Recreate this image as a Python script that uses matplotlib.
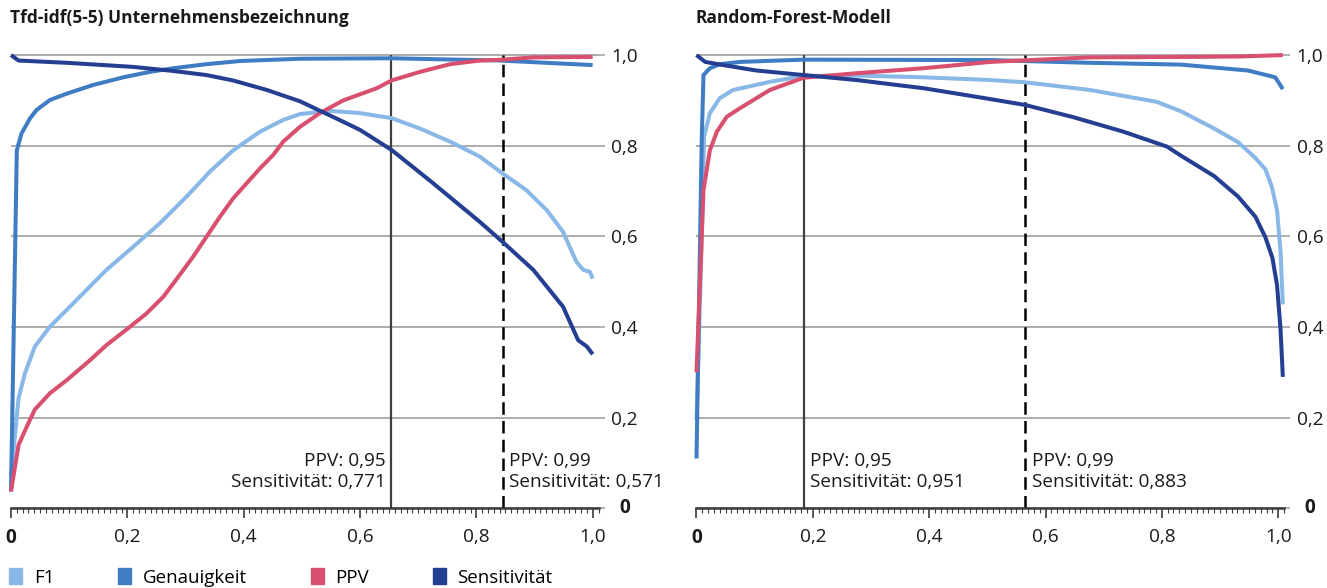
import matplotlib
matplotlib.use("Agg")
import matplotlib.pyplot as plt
from matplotlib.patches import Patch
from matplotlib.ticker import MultipleLocator

plt.rcParams['font.family'] = ['Open Sans', 'DejaVu Sans']

# Farben der Reihen
c_f1 = '#8ab8e6'
c_gen = '#3f7cc4'
c_ppv = '#d9506f'
c_sens = '#243f92'

series_names = ['F1', 'Genauigkeit', 'PPV', 'Sensitivität']

# ---- linkes Panel: Tfd-idf(5-5) ----
l_f1_x = [0.0, 0.013, 0.024, 0.041, 0.067, 0.096, 0.13, 0.164, 0.21, 0.256, 0.302, 0.342, 0.382,
          0.428, 0.468, 0.497, 0.548, 0.6, 0.654, 0.703, 0.755, 0.806, 0.845, 0.886, 0.921, 0.949,
          0.972, 0.984, 0.995, 1.0]
l_f1_y = [0.07, 0.243, 0.298, 0.357, 0.401, 0.438, 0.482, 0.526, 0.577, 0.629, 0.688, 0.743, 0.79,
          0.831, 0.857, 0.870, 0.877, 0.872, 0.861, 0.838, 0.809, 0.776, 0.739, 0.702, 0.658, 0.610,
          0.544, 0.526, 0.522, 0.507]

l_gen_x = [0.0, 0.01, 0.018, 0.033, 0.044, 0.067, 0.096, 0.141, 0.193, 0.239, 0.279, 0.336, 0.394,
           0.497, 0.654, 0.841, 1.0]
l_gen_y = [0.037, 0.79, 0.827, 0.861, 0.879, 0.901, 0.915, 0.934, 0.951, 0.963, 0.971, 0.980, 0.987,
           0.992, 0.993, 0.988, 0.978]

l_ppv_x = [0.0, 0.013, 0.027, 0.041, 0.067, 0.096, 0.136, 0.164, 0.205, 0.233, 0.262, 0.29, 0.313,
           0.336, 0.359, 0.382, 0.405, 0.428, 0.451, 0.468, 0.497, 0.531, 0.571, 0.629, 0.654, 0.703,
           0.755, 0.806, 0.845, 0.898, 1.0]
l_ppv_y = [0.037, 0.14, 0.18, 0.218, 0.254, 0.283, 0.327, 0.36, 0.401, 0.43, 0.467, 0.515, 0.555,
           0.599, 0.643, 0.684, 0.717, 0.75, 0.78, 0.809, 0.842, 0.872, 0.9, 0.927, 0.944, 0.963,
           0.98, 0.988, 0.99, 0.995, 0.996]

l_sens_x = [0.0, 0.013, 0.096, 0.21, 0.279, 0.336, 0.382, 0.44, 0.497, 0.571, 0.6, 0.654, 0.726,
            0.806, 0.845, 0.898, 0.949, 0.975, 0.99, 1.0]
l_sens_y = [1.0, 0.988, 0.983, 0.974, 0.965, 0.956, 0.944, 0.923, 0.898, 0.853, 0.835, 0.791, 0.717,
            0.632, 0.588, 0.526, 0.445, 0.371, 0.357, 0.340]

l_marks = [0.654, 0.845]
l_texts = ['PPV: 0,95\nSensitivität: 0,771', 'PPV: 0,99\nSensitivität: 0,571']

# ---- rechtes Panel: Random-Forest ----
r_f1_x = [0.0, 0.009, 0.013, 0.023, 0.04, 0.063, 0.126, 0.184, 0.275, 0.39, 0.505, 0.565, 0.677,
          0.791, 0.833, 0.89, 0.931, 0.96, 0.978, 0.989, 0.998, 1.004, 1.008]
r_f1_y = [0.195, 0.592, 0.82, 0.872, 0.905, 0.923, 0.941, 0.954, 0.955, 0.951, 0.945, 0.94, 0.923,
          0.897, 0.876, 0.838, 0.808, 0.774, 0.748, 0.71, 0.658, 0.568, 0.45]

r_gen_x = [0.0, 0.009, 0.012, 0.023, 0.04, 0.075, 0.184, 0.505, 0.677, 0.833, 0.948, 0.995, 1.008]
r_gen_y = [0.11, 0.813, 0.956, 0.971, 0.98, 0.985, 0.99, 0.989, 0.983, 0.979, 0.966, 0.951, 0.925]

r_ppv_x = [0.0, 0.012, 0.023, 0.035, 0.052, 0.075, 0.126, 0.184, 0.275, 0.39, 0.505, 0.677, 0.849,
           0.935, 1.008]
r_ppv_y = [0.3, 0.702, 0.79, 0.831, 0.864, 0.883, 0.923, 0.95, 0.96, 0.971, 0.985, 0.995, 0.996,
           0.997, 1.0]

r_sens_x = [0.0, 0.015, 0.046, 0.103, 0.184, 0.275, 0.39, 0.505, 0.565, 0.648, 0.734, 0.809, 0.833,
            0.89, 0.931, 0.961, 0.978, 0.99, 0.998, 1.004, 1.008]
r_sens_y = [1.0, 0.985, 0.978, 0.966, 0.956, 0.945, 0.927, 0.903, 0.89, 0.863, 0.831, 0.798, 0.778,
            0.733, 0.688, 0.643, 0.598, 0.553, 0.493, 0.396, 0.29]

r_marks = [0.184, 0.565]
r_texts = ['PPV: 0,95\nSensitivität: 0,951', 'PPV: 0,99\nSensitivität: 0,883']

x_ticks = [0, 0.2, 0.4, 0.6, 0.8, 1.0]
x_labels = ['0', '0,2', '0,4', '0,6', '0,8', '1,0']
y_ticks = [0, 0.2, 0.4, 0.6, 0.8, 1.0]
y_labels = ['', '0,2', '0,4', '0,6', '0,8', '1,0']

titles = ['Tfd-idf(5-5) Unternehmensbezeichnung', 'Random-Forest-Modell']

fs = 13.7

fig = plt.figure(figsize=(13.27, 5.88), dpi=100)
ax1 = fig.add_axes([11 / 1327, 0.1355, 587.5 / 1327, 0.7862])
ax2 = fig.add_axes([696.5 / 1327, 0.1355, 587.5 / 1327, 0.7862])


def draw_panel(ax, data, marks, texts, text_sides, title):
    for (xs, ys), col in zip(data, [c_f1, c_gen, c_ppv, c_sens]):
        ax.plot(xs, ys, color=col, lw=2.9, solid_capstyle='butt', zorder=3, clip_on=False)

    ax.vlines(marks[0], 0, 1.0, color='#404040', lw=1.6, zorder=2)
    ax.vlines(marks[1], 0, 1.0, color='black', lw=1.8, linestyles=(0, (5, 2.5)), zorder=2)

    for m, t, side in zip(marks, texts, text_sides):
        off = -4 if side == 'right' else 5
        ax.annotate(t, xy=(m, 0.081), xytext=(off, 0), textcoords='offset points',
                    ha=side, va='center', fontsize=fs, linespacing=1.17, color='#1a1a1a')

    ax.set_xlim(0, 1.01)
    ax.set_ylim(0, 1.02)

    for s in ['top', 'left', 'right']:
        ax.spines[s].set_visible(False)
    ax.spines['bottom'].set_color('#3c3c3c')
    ax.spines['bottom'].set_linewidth(1.8)

    ax.set_xticks(x_ticks, x_labels)
    ax.xaxis.set_minor_locator(MultipleLocator(0.01))
    ax.tick_params(axis='x', which='major', length=7, width=1.2, color='#3c3c3c',
                   labelsize=fs, pad=7, labelcolor='#1a1a1a')
    ax.tick_params(axis='x', which='minor', length=3.5, width=0.8, color='#3c3c3c')
    ax.get_xticklabels()[0].set_fontweight('bold')

    ax.yaxis.tick_right()
    ax.set_yticks(y_ticks, y_labels)
    ax.tick_params(axis='y', length=4, width=1.2, color='#a6a6a6', labelsize=fs, pad=5,
                   labelcolor='#1a1a1a')
    ax.yaxis.grid(True, color='#a6a6a6', lw=1.3)
    ax.set_axisbelow(True)
    ax.text(1.035, 0, '0', transform=ax.get_yaxis_transform(), ha='left', va='center',
            fontsize=fs, fontweight='bold', color='#1a1a1a')

    # Titel oben links
    x0 = ax.get_position().x0 - 1 / 1327
    fig.text(x0, 1 - 18 / 588, title, fontsize=12.5, fontweight='bold', ha='left', va='center',
             color='#1a1a1a')


draw_panel(ax1,
           [(l_f1_x, l_f1_y), (l_gen_x, l_gen_y), (l_ppv_x, l_ppv_y), (l_sens_x, l_sens_y)],
           l_marks, l_texts, ['right', 'left'], titles[0])
draw_panel(ax2,
           [(r_f1_x, r_f1_y), (r_gen_x, r_gen_y), (r_ppv_x, r_ppv_y), (r_sens_x, r_sens_y)],
           r_marks, r_texts, ['left', 'left'], titles[1])

handles = [Patch(color=c) for c in [c_f1, c_gen, c_ppv, c_sens]]
fig.legend(handles, series_names, loc='lower left', bbox_to_anchor=(9 / 1327, 0.002),
           ncol=4, frameon=False, fontsize=13.5, handlelength=0.7, handleheight=0.95,
           handletextpad=0.62, columnspacing=3.4, borderpad=0, borderaxespad=0)

fig.savefig('out.png', dpi=100)
